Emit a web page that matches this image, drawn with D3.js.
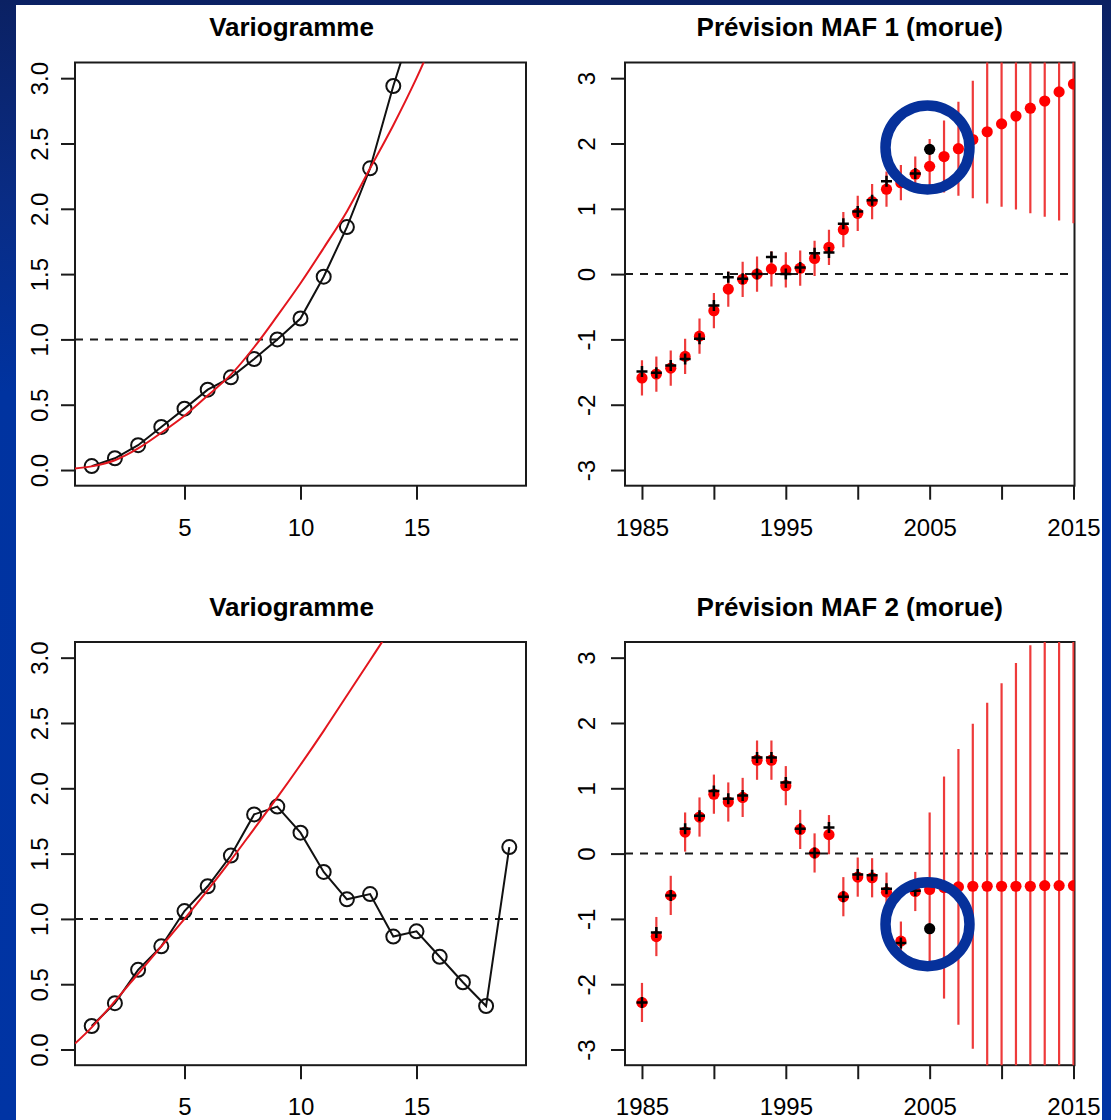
<!DOCTYPE html>
<html>
<head>
<meta charset="utf-8">
<script src="https://cdn.jsdelivr.net/npm/d3@7"></script>
<style>
  body { margin: 0; background: #0033a0; }
</style>
</head>
<body>
<div id="chart"></div>
<script>
/*
 * Data (variograms + MAF forecasts for cod)
 */
// top-left variogram: empirical values and fitted model
const lags1 = [1, 2, 3, 4, 5, 6, 7, 8, 9, 10, 11, 12, 13, 14, 15];
const gamma1 = [0.03, 0.09, 0.19, 0.33, 0.47, 0.615, 0.71, 0.85, 1.0, 1.16, 1.48, 1.86, 2.31, 2.94, 3.5];
const modelLags1 = [0.28, 1, 2, 3, 4, 5, 6, 7, 8, 9, 10, 11, 12, 13, 14, 15, 15.5];
const model1 = [0.012, 0.028, 0.075, 0.165, 0.285, 0.415, 0.57, 0.73, 0.94, 1.18, 1.43, 1.7, 1.98, 2.31, 2.64, 3.0, 3.2];

// bottom-left variogram
const lags2 = [1, 2, 3, 4, 5, 6, 7, 8, 9, 10, 11, 12, 13, 14, 15, 16, 17, 18, 19];
const gamma2 = [0.18, 0.355, 0.61, 0.79, 1.06, 1.25, 1.485, 1.8, 1.86, 1.66, 1.36, 1.15, 1.19, 0.865, 0.905, 0.71, 0.515, 0.333, 1.55];
const modelLags2 = [0.28, 1, 2, 3, 4, 5, 6, 7, 8, 9, 10, 11, 12, 13, 13.7];
const model2 = [0.046, 0.17, 0.37, 0.58, 0.79, 1.0, 1.22, 1.45, 1.69, 1.93, 2.18, 2.44, 2.71, 2.98, 3.17];

// forecast years
const years = [1985, 1986, 1987, 1988, 1989, 1990, 1991, 1992, 1993, 1994,
               1995, 1996, 1997, 1998, 1999, 2000, 2001, 2002, 2003, 2004,
               2005, 2006, 2007, 2008, 2009, 2010, 2011, 2012, 2013, 2014, 2015];
const obsYears = years.slice(0, 20);   // 1985..2004 observed
const newYears = [2005];               // left-out year

// MAF 1: fitted / forecast values, half-width of the interval, observations
const fit1 = [-1.59, -1.53, -1.44, -1.26, -0.95, -0.56, -0.23, -0.08, 0.0, 0.08,
              0.065, 0.09, 0.24, 0.41, 0.68, 0.93, 1.11, 1.30, 1.40, 1.53,
              1.65, 1.80, 1.92, 2.06, 2.18, 2.30, 2.42, 2.54, 2.65, 2.79, 2.91];
const se1 = [0.27, 0.27, 0.27, 0.27, 0.27, 0.27, 0.27, 0.27, 0.27, 0.27,
             0.27, 0.27, 0.27, 0.27, 0.27, 0.27, 0.27, 0.27, 0.27, 0.27,
             0.42, 0.55, 0.72, 0.9, 1.1, 1.27, 1.43, 1.61, 1.77, 1.97, 2.13];
const obs1 = [-1.49, -1.51, -1.40, -1.30, -0.99, -0.48, -0.05, -0.07, 0.0, 0.26,
              0.0, 0.10, 0.32, 0.33, 0.77, 0.96, 1.13, 1.42, 1.43, 1.54];
const newObs1 = [1.91];
const ring1 = [2004.85, 1.94];

// MAF 2
const fit2 = [-2.28, -1.27, -0.64, 0.33, 0.56, 0.91, 0.79, 0.86, 1.43, 1.43,
              1.04, 0.37, 0.01, 0.29, -0.66, -0.36, -0.37, -0.59, -1.34, -0.58,
              -0.55, -0.52, -0.51, -0.50, -0.50, -0.50, -0.50, -0.50, -0.49, -0.49, -0.49];
const se2 = [0.30, 0.30, 0.30, 0.30, 0.30, 0.30, 0.30, 0.30, 0.30, 0.30,
             0.30, 0.30, 0.30, 0.30, 0.30, 0.30, 0.30, 0.30, 0.30, 0.30,
             1.18, 1.70, 2.11, 2.49, 2.81, 3.11, 3.42, 3.69, 3.96, 4.2, 4.45];
const obs2 = [-2.28, -1.21, -0.64, 0.38, 0.58, 0.96, 0.84, 0.89, 1.47, 1.47,
              1.09, 0.38, 0.01, 0.40, -0.66, -0.32, -0.33, -0.54, -1.37, -0.57];
const newObs2 = [-1.15];
const ring2 = [2004.85, -1.08];

// axis ticks
const lagTicks = [5, 10, 15];
const gammaTicks = [0, 0.5, 1, 1.5, 2, 2.5, 3];
const yearTicks = [1985, 1990, 1995, 2000, 2005, 2010, 2015];
const yearLabels = [1985, 1995, 2005, 2015];
const mafTicks = [-3, -2, -1, 0, 1, 2, 3];

/*
 * Canvas
 */
const W = 1111, H = 1120;
const font = "'Liberation Sans', Arial, Helvetica, sans-serif";

let svg = d3.select("#chart")
  .append("svg")
    .attr("width", W)
    .attr("height", H);

let defs = svg.append("defs");
let grad = defs.append("linearGradient")
    .attr("id", "bg")
    .attr("x1", 0).attr("y1", 0).attr("x2", 0).attr("y2", 1);
grad.append("stop").attr("offset", "0%").attr("stop-color", "#0b2163");
grad.append("stop").attr("offset", "18%").attr("stop-color", "#092c85");
grad.append("stop").attr("offset", "35%").attr("stop-color", "#0033a0");
grad.append("stop").attr("offset", "100%").attr("stop-color", "#0034a4");

svg.append("rect").attr("width", W).attr("height", H).attr("fill", "url(#bg)");
// white slide picture
svg.append("rect")
    .attr("x", 16).attr("y", 5)
    .attr("width", 1086).attr("height", H - 5)
    .attr("fill", "white");

/*
 * Panel boxes (plot regions)
 */
const boxes = {
  tl: {left: 75, top: 62.5, right: 526, bottom: 485.7},
  tr: {left: 625, top: 62.5, right: 1074.5, bottom: 485.7},
  bl: {left: 75, top: 642, right: 526, bottom: 1065.2},
  br: {left: 625, top: 642, right: 1074.5, bottom: 1065.2}
};

function setupPanel(id, box, title, titleShift) {
    let g = svg.append("g").attr("id", id);

    defs.append("clipPath").attr("id", "clip-" + id)
      .append("rect")
        .attr("x", box.left).attr("y", box.top)
        .attr("width", box.right - box.left)
        .attr("height", box.bottom - box.top);

    g.append("text")
        .attr("x", (box.left + box.right) / 2 + titleShift)
        .attr("y", box.top - 26.5)
        .attr("text-anchor", "middle")
        .style("font-family", font)
        .style("font-weight", "bold")
        .style("font-size", "26px")
        .text(title);

    g.append("rect")
        .attr("x", box.left).attr("y", box.top)
        .attr("width", box.right - box.left)
        .attr("height", box.bottom - box.top)
        .attr("fill", "none")
        .attr("stroke", "#1a1a1a")
        .attr("stroke-width", 2);

    return g;
}

function drawAxes(g, box, x, y, xTicks, xFmt, yTicks, yFmt, yLabelGap) {
    let xAxis = g.append("g")
        .attr("transform", "translate(0," + box.bottom + ")")
        .call(d3.axisBottom(x).tickValues(xTicks).tickSize(14).tickFormat(xFmt));
    xAxis.select(".domain").remove();
    xAxis.selectAll("text")
        .attr("y", 50).attr("dy", 0);

    let yAxis = g.append("g")
        .attr("transform", "translate(" + box.left + ",0)")
        .call(d3.axisLeft(y).tickValues(yTicks).tickSize(14).tickFormat(yFmt));
    yAxis.select(".domain").remove();
    // R draws the y labels parallel to the axis
    yAxis.selectAll("text")
        .attr("transform", "rotate(-90)")
        .attr("x", 0).attr("y", -yLabelGap).attr("dy", 0)
        .attr("text-anchor", "middle");

    g.selectAll(".tick line")
        .attr("stroke", "#1a1a1a")
        .attr("stroke-width", 2);
    g.selectAll(".tick text")
        .style("font-family", font)
        .style("font-size", "24px")
        .attr("fill", "black");
}

function dashedLine(g, box, y, v) {
    g.append("line")
        .attr("x1", box.left).attr("x2", box.right)
        .attr("y1", y(v)).attr("y2", y(v))
        .attr("stroke", "#1a1a1a")
        .attr("stroke-width", 2)
        .attr("stroke-dasharray", "8,7");
}

/*
 * Variogram panels
 */
function drawVariogram(id, box, lags, gamma, modelLags, model) {
    let g = setupPanel(id, box, "Variogramme", -9);

    let x = d3.scaleLinear().domain([0.28, 19.72]).range([box.left, box.right]);
    let y = d3.scaleLinear().domain([-0.12, 3.12]).range([box.bottom, box.top]);

    drawAxes(g, box, x, y, lagTicks, d3.format("d"), gammaTicks, d3.format(".1f"), 27);

    let data = g.append("g").attr("clip-path", "url(#clip-" + id + ")");

    dashedLine(data, box, y, 1);

    let pts = lags.map((l, i) => ({lag: l, v: gamma[i]}));
    let line = d3.line().x(d => x(d.lag)).y(d => y(d.v));
    data.append("path")
        .datum(pts)
        .attr("d", line)
        .attr("fill", "none")
        .attr("stroke", "#111")
        .attr("stroke-width", 2);

    data.selectAll("circle.emp")
        .data(pts)
        .enter()
        .append("circle")
        .attr("class", "emp")
        .attr("cx", d => x(d.lag))
        .attr("cy", d => y(d.v))
        .attr("r", 7)
        .attr("fill", "white")
        .attr("fill-opacity", 0)
        .attr("stroke", "#111")
        .attr("stroke-width", 2);

    let mod = modelLags.map((l, i) => ({lag: l, v: model[i]}));
    data.append("path")
        .datum(mod)
        .attr("d", line.curve(d3.curveCatmullRom))
        .attr("fill", "none")
        .attr("stroke", "#e3161e")
        .attr("stroke-width", 2);
}

/*
 * Forecast panels
 */
function drawForecast(id, box, title, fit, se, obs, newObs, ring) {
    let g = setupPanel(id, box, title, 0);

    let x = d3.scaleLinear().domain([1983.82, 2015.07]).range([box.left, box.right]);
    let y = d3.scaleLinear().domain([-3.24, 3.24]).range([box.bottom, box.top]);

    drawAxes(g, box, x, y, yearTicks,
        d => yearLabels.includes(d) ? String(d) : "",
        mafTicks, d => String(d), 30);

    let data = g.append("g").attr("clip-path", "url(#clip-" + id + ")");

    dashedLine(data, box, y, 0);

    let pts = years.map((yr, i) => ({year: yr, v: fit[i], se: se[i]}));

    // intervals
    data.selectAll("line.bar")
        .data(pts)
        .enter()
        .append("line")
        .attr("class", "bar")
        .attr("x1", d => x(d.year)).attr("x2", d => x(d.year))
        .attr("y1", d => y(d.v - d.se))
        .attr("y2", d => y(d.v + d.se))
        .attr("stroke", "#ee3a3a")
        .attr("stroke-width", 2.2);

    // fitted / predicted
    data.selectAll("circle.fit")
        .data(pts)
        .enter()
        .append("circle")
        .attr("class", "fit")
        .attr("cx", d => x(d.year))
        .attr("cy", d => y(d.v))
        .attr("r", 5.6)
        .attr("fill", "#ff0000");

    // observed, as '+'
    data.selectAll("path.obs")
        .data(obsYears.map((yr, i) => ({year: yr, v: obs[i]})))
        .enter()
        .append("path")
        .attr("class", "obs")
        .attr("transform", d => "translate(" + x(d.year) + "," + y(d.v) + ")")
        .attr("d", "M-5.5,0H5.5M0,-5.5V5.5")
        .attr("stroke", "#000")
        .attr("stroke-width", 2.5);

    // observation not used in the fit
    data.selectAll("circle.new")
        .data(newYears.map((yr, i) => ({year: yr, v: newObs[i]})))
        .enter()
        .append("circle")
        .attr("class", "new")
        .attr("cx", d => x(d.year))
        .attr("cy", d => y(d.v))
        .attr("r", 5.6)
        .attr("fill", "#000");

    // highlight ring from the slide
    g.append("circle")
        .attr("cx", x(ring[0]))
        .attr("cy", y(ring[1]))
        .attr("r", 42)
        .attr("fill", "none")
        .attr("stroke", "#06319b")
        .attr("stroke-width", 10.5);
}

drawVariogram("tl", boxes.tl, lags1, gamma1, modelLags1, model1);
drawForecast("tr", boxes.tr, "Prévision MAF 1 (morue)", fit1, se1, obs1, newObs1, ring1);
drawVariogram("bl", boxes.bl, lags2, gamma2, modelLags2, model2);
drawForecast("br", boxes.br, "Prévision MAF 2 (morue)", fit2, se2, obs2, newObs2, ring2);
</script>
</body>
</html>
